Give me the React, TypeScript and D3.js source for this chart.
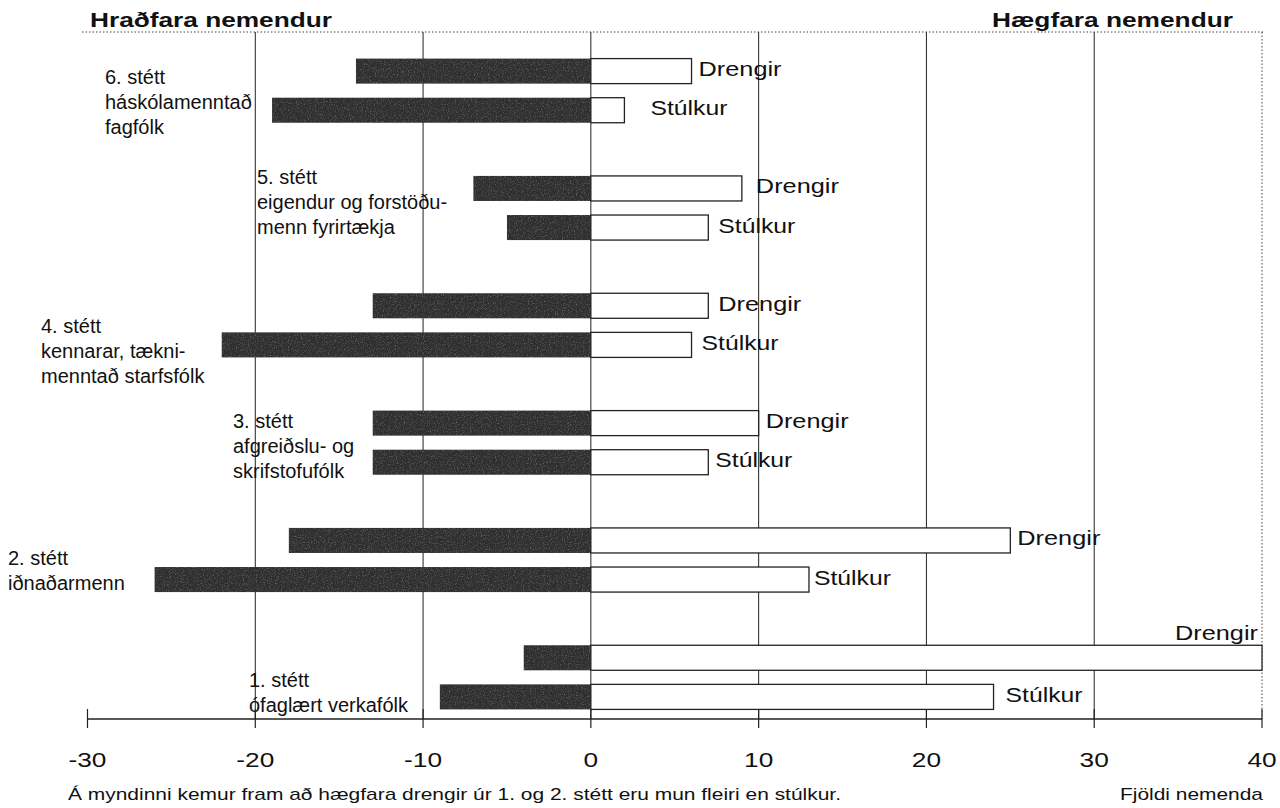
import * as d3 from "d3";

// social classes, top to bottom
const classes = ["6", "5", "4", "3", "2", "1"];
const genders = ["Drengir", "Stúlkur"];

// hraðfara (fast learners) – drawn to the left of zero
const fastBoys = [14, 7, 13, 13, 18, 4];
const fastGirls = [19, 5, 22, 13, 26, 9];
// hægfara (slow learners) – drawn to the right of zero
const slowBoys = [6, 9, 7, 10, 25, 40];
const slowGirls = [2, 7, 6, 7, 13, 24];

const classLabels = [
  ["6. stétt", "háskólamenntað", "fagfólk"],
  ["5. stétt", "eigendur og forstöðu-", "menn fyrirtækja"],
  ["4. stétt", "kennarar, tækni-", "menntað starfsfólk"],
  ["3. stétt", "afgreiðslu- og", "skrifstofufólk"],
  ["2. stétt", "iðnaðarmenn"],
  ["1. stétt", "ófaglært verkafólk"],
];

const xTicks = [-30, -20, -10, 0, 10, 20, 30, 40];
const gridTicks = [-20, -10, 0, 10, 20, 30];

const W = 1280;
const H = 808;
const FONT = "'Liberation Sans', Arial, Helvetica, sans-serif";

// hand placement of the class label blocks (as in the original figure)
const labelX = [105, 257, 41, 233, 8, 249];
const labelDy = [-7, -24, 8, -15, 5, 10];
// gap between white bar end and its Drengir / Stúlkur label, per class
const gapBoys = [7, 14, 10, 7, 7, 0];
const gapGirls = [26, 10, 10, 7, 5, 12];

export default function App() {
  const x = d3.scaleLinear().domain([-30, 40]).range([87.5, 1262]);
  const yGroup = d3.scaleBand<string>().domain(classes).range([32, 736]).padding(0);
  const yInner = d3
    .scaleBand<string>()
    .domain(genders)
    .range([0, yGroup.bandwidth()])
    .paddingInner(0.36)
    .paddingOuter(0.68);

  const rows = classes.flatMap((c, i) => [
    { cls: c, g: "Drengir", fast: fastBoys[i], slow: slowBoys[i], gap: gapBoys[i], w: 83 },
    { cls: c, g: "Stúlkur", fast: fastGirls[i], slow: slowGirls[i], gap: gapGirls[i], w: 77 },
  ]);

  const top = yGroup.range()[0];
  const axisY = 719;
  const bh = yInner.bandwidth();

  return (
    <svg
      width={W}
      height={H}
      style={{ position: "absolute", left: 0, top: 0, background: "#fff" }}
      fontFamily={FONT}
    >
      <defs>
        {/* scanned-halftone look for the dark bars */}
        <filter id="grain" x="0" y="0" width="100%" height="100%">
          <feTurbulence type="fractalNoise" baseFrequency="0.85" numOctaves="2" seed="4" />
          <feColorMatrix type="matrix" values="0 0 0 0 1  0 0 0 0 1  0 0 0 0 1  0 0 0 1.6 -0.8" />
          <feComposite in2="SourceGraphic" operator="in" />
        </filter>
      </defs>

      {/* titles */}
      <text x={90} y={27} fontSize={21} fontWeight="bold" textLength={242} lengthAdjust="spacingAndGlyphs" fill="#111">
        Hraðfara nemendur
      </text>
      <text x={992} y={27} fontSize={21} fontWeight="bold" textLength={241} lengthAdjust="spacingAndGlyphs" fill="#111">
        Hægfara nemendur
      </text>

      {/* top dotted frame line and right dotted border */}
      <line x1={82} x2={x(40) + 3} y1={top} y2={top} stroke="#444" strokeWidth={1} strokeDasharray="1.5,2" />
      <line x1={x(40)} x2={x(40)} y1={top} y2={axisY} stroke="#444" strokeWidth={1} strokeDasharray="1.5,2" />

      {/* vertical gridlines */}
      {gridTicks.map((t) => (
        <line key={t} x1={x(t)} x2={x(t)} y1={top} y2={axisY} stroke="#222" strokeWidth={1} />
      ))}

      {/* bars */}
      {rows.map((r) => {
        const y0 = (yGroup(r.cls) ?? 0) + (yInner(r.g) ?? 0);
        return (
          <g key={r.cls + r.g}>
            <rect x={x(-r.fast)} y={y0} width={x(0) - x(-r.fast)} height={bh} fill="#2f2f2f" />
            <rect
              x={x(-r.fast)}
              y={y0}
              width={x(0) - x(-r.fast)}
              height={bh}
              fill="#000"
              filter="url(#grain)"
              opacity={0.45}
            />
            <rect x={x(0)} y={y0} width={x(r.slow) - x(0)} height={bh} fill="#fff" stroke="#222" strokeWidth={1.3} />
            {r.slow >= 40 ? (
              <text
                x={x(r.slow) - 4 - r.w}
                y={y0 - 5}
                fontSize={21}
                textLength={r.w}
                lengthAdjust="spacingAndGlyphs"
                fill="#111"
              >
                {r.g}
              </text>
            ) : (
              <text
                x={x(r.slow) + r.gap}
                y={y0 + bh / 2 + 5}
                fontSize={21}
                textLength={r.w}
                lengthAdjust="spacingAndGlyphs"
                fill="#111"
              >
                {r.g}
              </text>
            )}
          </g>
        );
      })}

      {/* class labels */}
      {classLabels.map((lines, i) => {
        const cy = (yGroup(classes[i]) ?? 0) + yGroup.bandwidth() / 2 + labelDy[i];
        return (
          <text key={i} x={labelX[i]} y={cy} fontSize={20} fill="#111">
            {lines.map((l, j) => (
              <tspan key={j} x={labelX[i]} dy={j === 0 ? 0 : 25}>
                {l}
              </tspan>
            ))}
          </text>
        );
      })}

      {/* x axis */}
      <line x1={x(-30)} x2={x(40)} y1={axisY} y2={axisY} stroke="#222" strokeWidth={1.5} />
      {xTicks.map((t) => (
        <g key={t}>
          <line x1={x(t)} x2={x(t)} y1={axisY - 10} y2={axisY + 9} stroke="#222" strokeWidth={1.2} />
          <text
            transform={`translate(${x(t)},767) scale(1.25,1)`}
            fontSize={21}
            textAnchor="middle"
            fill="#111"
          >
            {t}
          </text>
        </g>
      ))}

      {/* footnotes */}
      <text x={68} y={800} fontSize={17} textLength={773} lengthAdjust="spacingAndGlyphs" fill="#111">
        Á myndinni kemur fram að hægfara drengir úr 1. og 2. stétt eru mun fleiri en stúlkur.
      </text>
      <text x={1120} y={800} fontSize={17} textLength={143} lengthAdjust="spacingAndGlyphs" fill="#111">
        Fjöldi nemenda
      </text>
    </svg>
  );
}
